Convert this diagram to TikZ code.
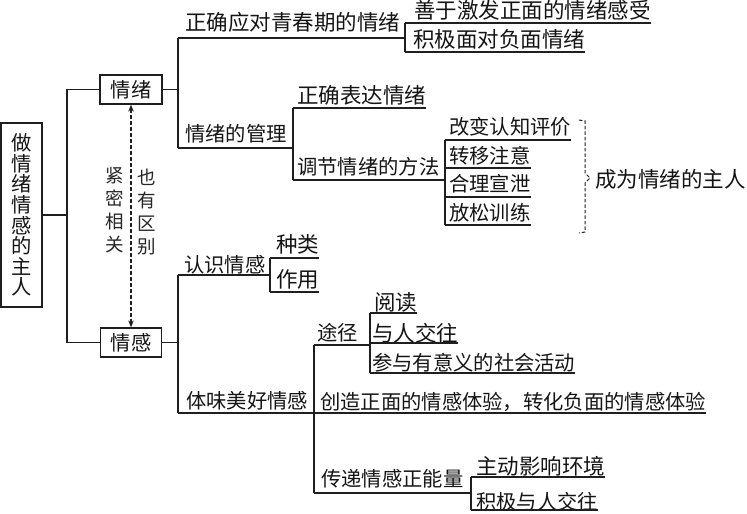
\documentclass[tikz,border=0pt]{standalone}
\usepackage{fontspec}
\newfontfamily\cjk{Noto Sans CJK SC}
\usetikzlibrary{arrows.meta}
\begin{document}
\begin{tikzpicture}[x=1pt,y=-1pt,
  ln/.style={line width=1.25pt, draw=black!88},
  tx/.style={inner sep=0pt, anchor=west, font=\cjk\fontsize{20.3}{22}\selectfont, text=black!92},
  tw/.style={tx, font=\cjk\fontsize{21.5}{22}\selectfont},
  bx/.style={draw=black!88, line width=1.25pt, inner sep=0pt, text=black!92, font=\cjk\fontsize{20.3}{22}\selectfont},
  vt/.style={inner sep=0pt, align=center, text=black!85, font=\cjk\fontsize{18.5}{23}\selectfont},
  dasharrow/.style={line width=1.1pt, draw=black!88, dash pattern=on 4pt off 2pt, {Stealth[length=7pt,width=5.5pt]}-{Stealth[length=7pt,width=5.5pt]}},
  bracestyle/.style={line width=1pt, draw=black!88, dash pattern=on 3.5pt off 2pt}]
\useasboundingbox (0,0) rectangle (747,514);

% left boxes
\node[bx, minimum width=41pt, minimum height=184pt, align=center, font=\cjk\fontsize{20.3}{20.6}\selectfont] (root) at (21.5,215) {做\\情\\绪\\情\\感\\的\\主\\人};
\node[bx, minimum width=62pt, minimum height=29pt] (qx) at (131,89.5) {情绪};
\node[bx, minimum width=61pt, minimum height=29pt] (qg) at (131,342.5) {情感};

\coordinate (Lm) at (67,215);
\coordinate (Lt) at (67,89.5);
\coordinate (Lb) at (67,342.5);
\draw[ln] (root.east) -- (Lm);
\draw[ln] (qx.west) -- (Lt) -- (Lb) -- (qg.west);

\draw[dasharrow] (qx.south) -- (qg.north);
\node[vt] (jm) at (115,210) {紧\\密\\相\\关};
\node[vt] (yq) at (147,212) {也\\有\\区\\别};

% upper branch texts
\node[tw] (t1) at (185,22.5) {正确应对青春期的情绪};
\node[tw] (t1a) at (414,10) {善于激发正面的情绪感受};
\node[tw] (t1b) at (413,39) {积极面对负面情绪};
\node[tx] (t2) at (185,134) {情绪的管理};
\node[tw] (t2a) at (297,95.5) {正确表达情绪};
\node[tx] (t2b) at (297,167) {调节情绪的方法};
\node[tx] (m1) at (449,127) {改变认知评价};
\node[tx] (m2) at (449,156) {转移注意};
\node[tx] (m3) at (449,184) {合理宣泄};
\node[tx] (m4) at (449,212.5) {放松训练};
\node[tw] (goal) at (595,179) {成为情绪的主人};

% upper branch lines
\coordinate (a1) at (178,38);
\coordinate (a2) at (178,148);
\draw[ln] (qx.east) -- (qx.east -| a1);
\draw[ln] (a1) -- (a2);
\coordinate (b1) at (405,23);
\coordinate (b2) at (405,52);
\draw[ln] (a1) -- (a1 -| b1);
\draw[ln] (b1) -- (b2);
\draw[ln] (b1) -- (b1 -| t1a.east);
\draw[ln] (b2) -- (b2 -| t1b.east);
\coordinate (c1) at (293,108);
\coordinate (c2) at (293,180);
\draw[ln] (a2) -- (a2 -| c1);
\draw[ln] (c1) -- (c2);
\draw[ln] (c1) -- (c1 -| t2a.east);
\coordinate (d1) at (445,140);
\coordinate (d2) at (445,225);
\draw[ln] (c2) -- (c2 -| d1);
\draw[ln] (d1) -- (d2);
\draw[ln] (d1) -- (d1 -| m1.east);
\draw[ln] (d1 |- 0,168) -- (m2.east |- 0,168);
\draw[ln] (d1 |- 0,197) -- (m3.east |- 0,197);
\draw[ln] (d2) -- (d2 -| m4.east);

% brace
\draw[bracestyle] (579,120) -- (585,121) -- (585,173) -- (590,178) -- (585,183) -- (585,232) -- (579,233);

% lower branch texts
\node[tx] (g1) at (184,264.5) {认识情感};
\node[tw] (g1a) at (276,244) {种类};
\node[tw] (g1b) at (276,279.5) {作用};
\node[tx] (g2) at (186,401) {体味美好情感};
\node[tx] (p1) at (317,332.5) {途径};
\node[tw] (p1a) at (374,302.5) {阅读};
\node[tw] (p1b) at (372,333.5) {与人交往};
\node[tx] (p1c) at (372,362.5) {参与有意义的社会活动};
\node[tx] (p2) at (320,401.5) {创造正面的情感体验，转化负面的情感体验};
\node[tx] (p3) at (321,479) {传递情感正能量};
\node[tw] (p3a) at (476,466) {主动影响环境};
\node[tx] (p3b) at (476,502) {积极与人交往};

% lower branch lines
\coordinate (e1) at (178,275);
\coordinate (e2) at (178,413);
\draw[ln] (qg.east) -- (qg.east -| e1);
\draw[ln] (e1) -- (e2);
\coordinate (f1) at (270,258);
\coordinate (f2) at (270,292);
\draw[ln] (e1) -- (e1 -| f1);
\draw[ln] (f1) -- (f2);
\draw[ln] (f1) -- (f1 -| g1a.east);
\draw[ln] (f2) -- (f2 -| g1b.east);
\draw[ln] (e2) -- (e2 -| p2.east);
\coordinate (h1) at (314,345);
\coordinate (h2) at (314,493);
\draw[ln] (h1) -- (h2);
\coordinate (i1) at (370,313);
\coordinate (i2) at (370,373);
\draw[ln] (h1) -- (h1 -| i1);
\draw[ln] (i1) -- (i2);
\draw[ln] (i1) -- (i1 -| p1a.east);
\draw[ln] (i1 |- 0,343) -- (p1b.east |- 0,343);
\draw[ln] (i2) -- (i2 -| p1c.east);
\coordinate (j1) at (471,477);
\coordinate (j2) at (471,510);
\draw[ln] (h2) -- (h2 -| j1);
\draw[ln] (j1) -- (j2);
\draw[ln] (j1) -- (j1 -| p3a.east);
\draw[ln] (j2) -- (j2 -| p3b.east);
\end{tikzpicture}
\end{document}
